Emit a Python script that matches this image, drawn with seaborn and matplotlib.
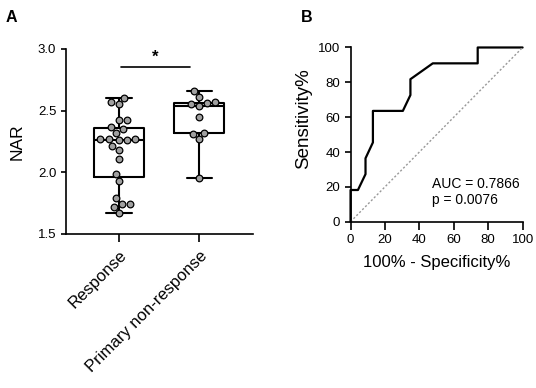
import matplotlib
matplotlib.use("Agg")
import matplotlib.pyplot as plt
import seaborn as sns
import pandas as pd

# NAR values
response = [2.60, 2.57, 2.55, 2.42, 2.42, 2.37, 2.35, 2.32, 2.27, 2.27, 2.27,
            2.26, 2.26, 2.21, 2.18, 2.11, 1.99, 1.93, 1.79, 1.74, 1.74, 1.72, 1.67]
non_response = [2.66, 2.61, 2.57, 2.56, 2.55, 2.54, 2.45, 2.32, 2.31, 2.27, 1.95]
groups = ["Response", "Primary non-response"]

# ROC curve (100% - specificity%, sensitivity%)
fpr = [0, 0, 4.3, 8.7, 8.7, 13.0, 13.0, 30.4, 34.8, 34.8, 47.8, 73.9, 73.9, 100]
tpr = [0, 18.2, 18.2, 27.3, 36.4, 45.5, 63.6, 63.6, 72.7, 81.8, 90.9, 90.9, 100, 100]
auc_text = "AUC = 0.7866\np = 0.0076"

df = pd.DataFrame({
    "group": [groups[0]] * len(response) + [groups[1]] * len(non_response),
    "NAR": response + non_response,
})

sns.set_style("ticks")
plt.rcParams["font.family"] = ["Liberation Sans", "DejaVu Sans"]
plt.rcParams["axes.linewidth"] = 1.2
plt.rcParams["xtick.major.width"] = 1.2
plt.rcParams["ytick.major.width"] = 1.2
for key in ["text.color", "axes.labelcolor", "axes.edgecolor",
            "xtick.color", "ytick.color"]:
    plt.rcParams[key] = "black"

fig = plt.figure(figsize=(5.36, 3.88), dpi=100)
ax1 = fig.add_axes([0.123, 0.397, 0.349, 0.477])
ax2 = fig.add_axes([0.654, 0.4286, 0.321, 0.449])

# panel A
sns.boxplot(data=df, x="group", y="NAR", order=groups, ax=ax1, fill=False,
            color="black", linewidth=1.5, width=0.63, whis=(0, 100))
sns.swarmplot(data=df, x="group", y="NAR", order=groups, ax=ax1, size=4.8,
              color="#a0a0a0", edgecolor="black", linewidth=0.9)
ax1.set_ylim(1.5, 3.0)
ax1.set_xlim(-0.66, 1.67)
ax1.set_yticks([1.5, 2.0, 2.5, 3.0])
ax1.set_yticklabels(["1.5", "2.0", "2.5", "3.0"], fontsize=9.5)
ax1.set_xticks([0, 1])
ax1.set_xticklabels(groups, rotation=45, ha="right", rotation_mode="anchor",
                    fontsize=12)
ax1.tick_params(axis="x", length=6, pad=4)
ax1.tick_params(axis="y", length=3.5)
ax1.set_xlabel("")
ax1.set_ylabel("NAR", fontsize=12.5)
ax1.yaxis.set_label_coords(-0.22, 0.5)
ax1.plot([0.03, 0.88], [2.85, 2.85], color="black", lw=1.2)
ax1.text(0.455, 2.87, "*", ha="center", va="bottom", fontsize=12,
         fontweight="bold")
sns.despine(ax=ax1)

# panel B
sns.lineplot(x=fpr, y=tpr, ax=ax2, color="black", linewidth=1.6, sort=False,
             estimator=None, clip_on=False)
ax2.plot([0, 100], [0, 100], color="#999999", lw=1, ls=(0, (1.5, 1.5)))
ax2.set_xlim(0, 100)
ax2.set_ylim(0, 100)
ax2.set_xticks(range(0, 101, 20))
ax2.set_yticks(range(0, 101, 20))
ax2.tick_params(labelsize=9.5)
ax2.tick_params(axis="x", length=5.5)
ax2.tick_params(axis="y", length=4)
ax2.set_xlabel("100% - Specificity%", fontsize=12, labelpad=6)
ax2.set_ylabel("Sensitivity%", fontsize=13.5)
ax2.yaxis.set_label_coords(-0.225, 0.59)
ax2.text(47.5, 17, auc_text, fontsize=10, va="center", linespacing=1.2)
sns.despine(ax=ax2)

fig.text(0.011, 0.975, "A", fontsize=11.5, fontweight="bold", va="top")
fig.text(0.561, 0.975, "B", fontsize=11.5, fontweight="bold", va="top")

fig.savefig("out.png", dpi=100)
